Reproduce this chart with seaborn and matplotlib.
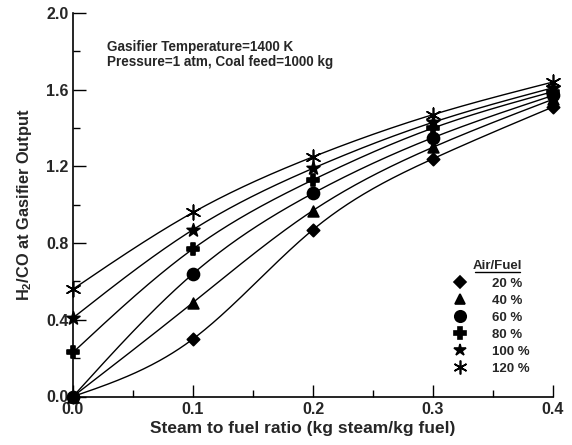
import numpy as np
import pandas as pd
import seaborn as sns
import matplotlib
matplotlib.use("Agg")
import matplotlib.pyplot as plt
from matplotlib.lines import Line2D
from matplotlib.ticker import MultipleLocator, FormatStrFormatter

# ---- data ----
steam_ratio = [0.0, 0.1, 0.2, 0.3, 0.4]
air_fuel_labels = ["20 %", "40 %", "60 %", "80 %", "100 %", "120 %"]
h2co_20 = [0.00, 0.30, 0.87, 1.24, 1.51]
h2co_40 = [0.00, 0.49, 0.97, 1.30, 1.55]
h2co_60 = [0.00, 0.64, 1.06, 1.35, 1.57]
h2co_80 = [0.23, 0.77, 1.13, 1.40, 1.59]
h2co_100 = [0.41, 0.87, 1.19, 1.43, 1.61]
h2co_120 = [0.56, 0.96, 1.25, 1.47, 1.64]
series = [h2co_20, h2co_40, h2co_60, h2co_80, h2co_100, h2co_120]

sns.set_theme(style="ticks")
plt.rcParams["font.family"] = ["Liberation Sans", "DejaVu Sans"]
plt.rcParams["font.weight"] = "bold"
plt.rcParams["mathtext.fontset"] = "custom"
plt.rcParams["mathtext.rm"] = "Liberation Sans:bold"
plt.rcParams["mathtext.bf"] = "Liberation Sans:bold"
plt.rcParams["mathtext.default"] = "bf"

markers = {
    "20 %": "D",
    "40 %": "^",
    "60 %": "o",
    "80 %": "P",
    "100 %": "*",
    "120 %": (6, 2, 0),
}
msizes = {"20 %": 40, "40 %": 60, "60 %": 75, "80 %": 75, "100 %": 95, "120 %": 110}


def natural_spline(x, y, xs):
    x = np.asarray(x, float)
    y = np.asarray(y, float)
    n = len(x)
    h = np.diff(x)
    A = np.zeros((n, n))
    b = np.zeros(n)
    A[0, 0] = 1
    A[-1, -1] = 1
    for i in range(1, n - 1):
        A[i, i - 1] = h[i - 1]
        A[i, i] = 2 * (h[i - 1] + h[i])
        A[i, i + 1] = h[i]
        b[i] = 6 * ((y[i + 1] - y[i]) / h[i] - (y[i] - y[i - 1]) / h[i - 1])
    M = np.linalg.solve(A, b)
    out = np.empty_like(xs)
    for k, xv in enumerate(xs):
        i = min(np.searchsorted(x, xv, side="right") - 1, n - 2)
        i = max(i, 0)
        t1 = x[i + 1] - xv
        t0 = xv - x[i]
        out[k] = (M[i] * t1 ** 3 / (6 * h[i]) + M[i + 1] * t0 ** 3 / (6 * h[i])
                  + (y[i] / h[i] - M[i] * h[i] / 6) * t1
                  + (y[i + 1] / h[i] - M[i + 1] * h[i] / 6) * t0)
    return out


rows = []
curve_rows = []
xs = np.linspace(0, 0.4, 300)
for lab, vals in zip(air_fuel_labels, series):
    for xv, yv in zip(steam_ratio, vals):
        rows.append({"ratio": xv, "value": yv, "airfuel": lab})
    ys = natural_spline(steam_ratio, vals, xs)
    for xv, yv in zip(xs, ys):
        curve_rows.append({"ratio": xv, "value": yv, "airfuel": lab})
pts = pd.DataFrame(rows)
curves = pd.DataFrame(curve_rows)

fig = plt.figure(figsize=(5.72, 4.45), dpi=100)
ax = fig.add_axes([73 / 572, 1 - 396.5 / 445, (553 - 73) / 572, (396.5 - 13) / 445])

sns.lineplot(data=curves, x="ratio", y="value", hue="airfuel",
             palette=["black"] * 6, estimator=None, sort=False,
             linewidth=1.0, legend=False, ax=ax)

for lab in air_fuel_labels:
    sub = pts[pts["airfuel"] == lab]
    sns.scatterplot(data=sub, x="ratio", y="value", marker=markers[lab],
                    s=msizes[lab], color="black", edgecolor="black",
                    linewidth=1.2, legend=False, ax=ax, clip_on=False, zorder=5)

ax.set_xlim(0, 0.4)
ax.set_ylim(0, 2.0)
ax.xaxis.set_major_locator(MultipleLocator(0.1))
ax.xaxis.set_minor_locator(MultipleLocator(0.05))
ax.yaxis.set_major_locator(MultipleLocator(0.4))
ax.yaxis.set_minor_locator(MultipleLocator(0.2))
ax.xaxis.set_major_formatter(FormatStrFormatter("%.1f"))
ax.yaxis.set_major_formatter(FormatStrFormatter("%.1f"))
ax.tick_params(which="major", direction="in", length=9, width=1.0, color="black",
               labelsize=11.5)
ax.tick_params(axis="y", which="major", pad=3)
ax.tick_params(axis="x", which="major", pad=4)
ax.tick_params(which="minor", direction="in", length=5, width=1.0, color="black")
for t in ax.get_xticklabels() + ax.get_yticklabels():
    t.set_fontweight("bold")
for s in ["top", "right"]:
    ax.spines[s].set_visible(False)
for s in ["left", "bottom"]:
    ax.spines[s].set_color("black")
    ax.spines[s].set_linewidth(1.2)

ax.set_xlabel("Steam to fuel ratio (kg steam/kg fuel)", fontsize=12.5,
              fontweight="bold", labelpad=1)
ax.xaxis.set_label_coords(0.478, -0.065)
ax.set_ylabel(r"H$_2$/CO at Gasifier Output", fontsize=11.8, fontweight="bold",
              labelpad=9)

ax.text(0.071, 0.93, "Gasifier Temperature=1400 K\nPressure=1 atm, Coal feed=1000 kg",
        transform=ax.transAxes, fontsize=9.75, fontweight="bold",
        va="top", ha="left", linespacing=1.15)

# legend
handles = [Line2D([], [], linestyle="none", marker=markers[l], color="black",
                  markersize=np.sqrt(msizes[l]) * 0.95, markeredgewidth=1.2)
           for l in air_fuel_labels]
leg = ax.legend(handles, air_fuel_labels, loc="upper left",
                bbox_to_anchor=(0.7925, 0.310), frameon=False, fontsize=9.5,
                handlelength=1.0, handletextpad=1.9, labelspacing=0.36,
                borderpad=0, borderaxespad=0)
for t in leg.get_texts():
    t.set_fontweight("bold")
ax.text(0.8833, 0.341, "Air/Fuel", transform=ax.transAxes, fontsize=9.5,
        fontweight="bold", ha="center", va="center")
ax.plot([0.8375, 0.931], [0.325, 0.325], transform=ax.transAxes, color="black",
        linewidth=1.0, clip_on=False)

fig.savefig("out.png", dpi=100, facecolor="white")
